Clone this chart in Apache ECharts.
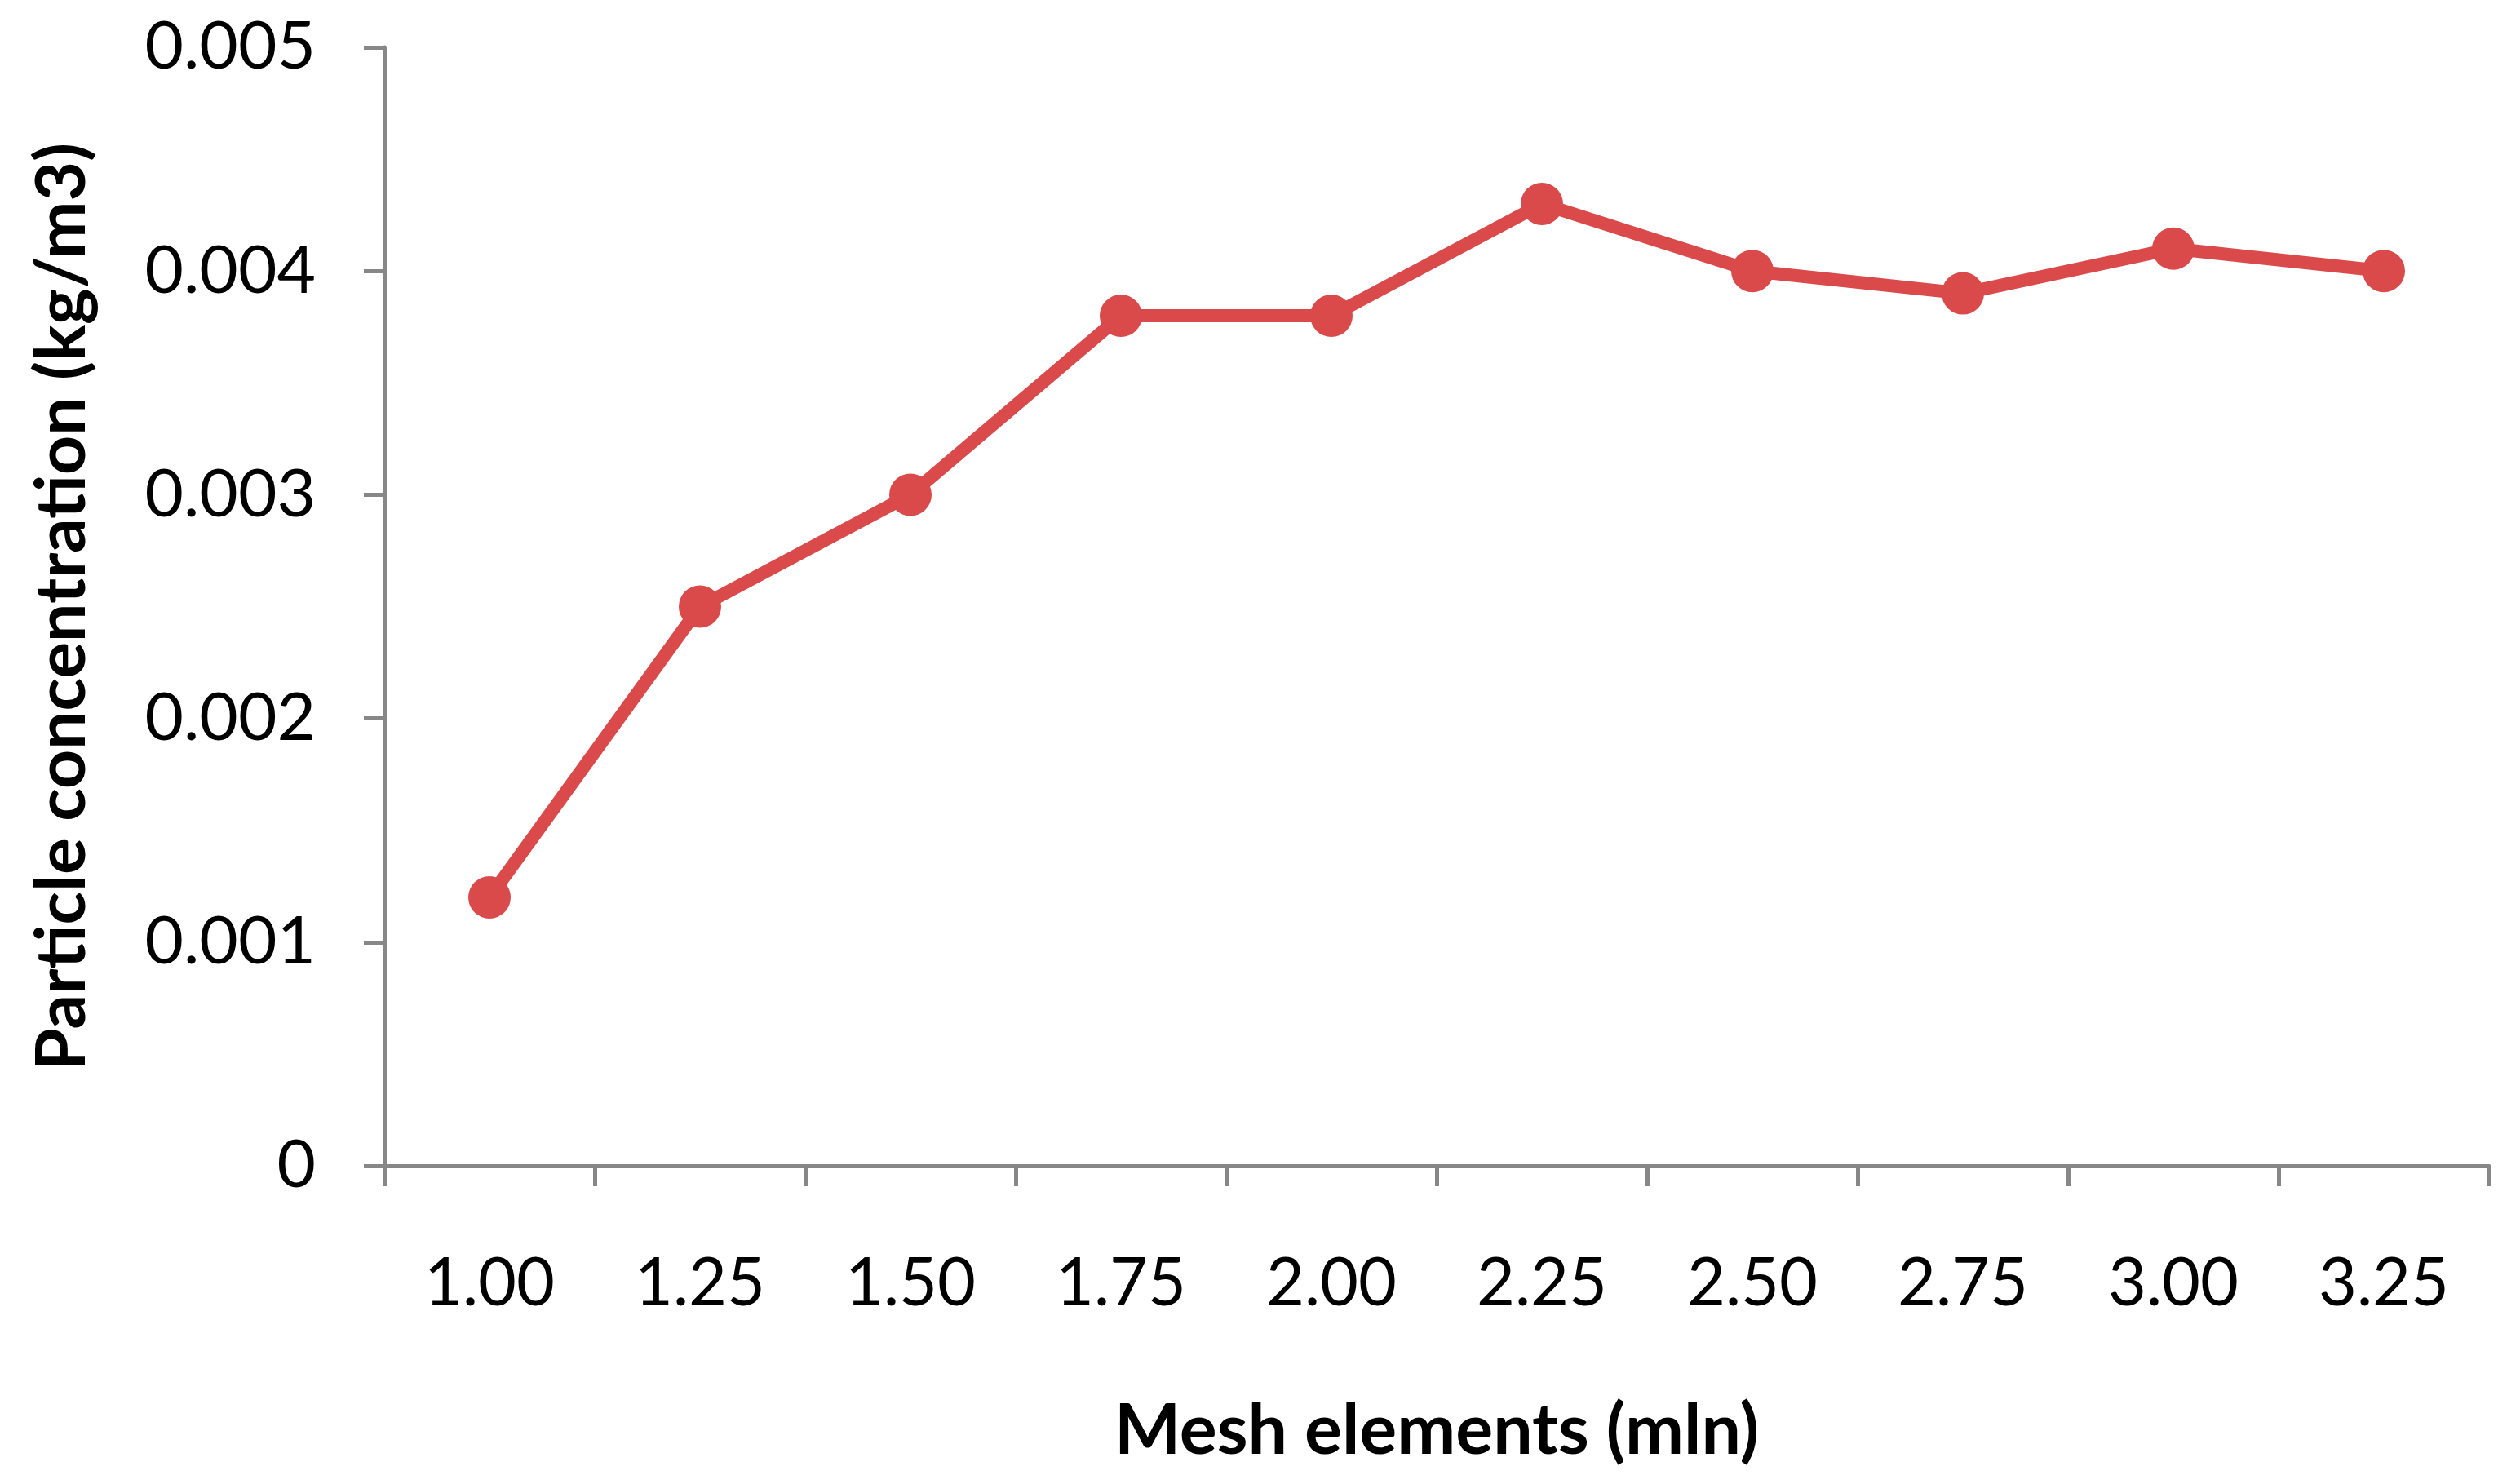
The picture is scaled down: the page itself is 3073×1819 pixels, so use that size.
<!DOCTYPE html>
<html>
<head>
<meta charset="utf-8">
<script src="https://cdn.jsdelivr.net/npm/echarts@6/dist/echarts.min.js"></script>
<style>
html,body{margin:0;padding:0;background:#fff;}
#chart{width:3073px;height:1819px;}
</style>
</head>
<body>
<div id="chart"></div>
<script>
const categories = ['1.00','1.25','1.50','1.75','2.00','2.25','2.50','2.75','3.00','3.25'];
const concentration = [0.0012, 0.0025, 0.0030, 0.0038, 0.0038, 0.0043, 0.0040, 0.0039, 0.0041, 0.0040];
const xTitle = 'Mesh elements (mln)';
const yTitle = 'Particle concentration (kg/m3)';

const chart = echarts.init(document.getElementById('chart'), null, {renderer:'canvas'});
const axisColor = '#878787';
const font = 'Lato';
chart.setOption({
  backgroundColor:'#ffffff',
  animation:false,
  grid:{left:471, top:58, right:22, bottom:390, containLabel:false},
  xAxis:{
    type:'category',
    data:categories,
    boundaryGap:true,
    name:xTitle,
    nameLocation:'middle',
    nameGap:282,
    nameTextStyle:{fontFamily:font, fontWeight:'bold', fontSize:86, color:'#000'},
    axisLine:{lineStyle:{color:axisColor, width:5}},
    axisTick:{show:true, length:25, alignWithLabel:false, lineStyle:{color:axisColor, width:5}},
    axisLabel:{fontFamily:font, fontSize:81, color:'#000', margin:104},
    splitLine:{show:false}
  },
  yAxis:{
    type:'value',
    min:0, max:0.005, interval:0.001,
    name:yTitle,
    nameLocation:'middle',
    nameGap:352,
    nameRotate:90,
    nameTextStyle:{fontFamily:font, fontWeight:'bold', fontSize:84, color:'#000'},
    axisLine:{show:true, lineStyle:{color:axisColor, width:5}},
    axisTick:{show:true, length:25, lineStyle:{color:axisColor, width:5}},
    axisLabel:{fontFamily:font, fontSize:82, color:'#000', margin:84,
      formatter:function(v){return v===0?'0':v.toFixed(3);}},
    splitLine:{show:false}
  },
  series:[{
    type:'line',
    data:concentration,
    symbol:'circle',
    symbolSize:52,
    lineStyle:{color:'#DA4A4A', width:16},
    itemStyle:{color:'#DA4A4A'}
  }]
});
</script>
</body>
</html>
